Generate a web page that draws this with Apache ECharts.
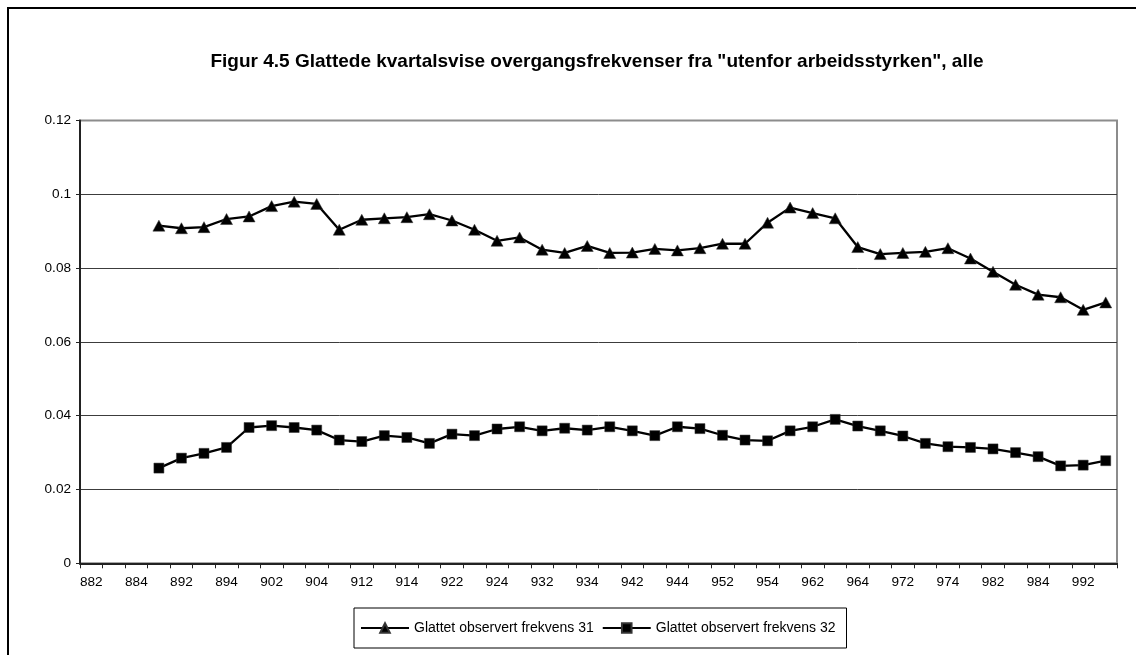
<!DOCTYPE html>
<html>
<head>
<meta charset="utf-8">
<title>Figur 4.5</title>
<script src="https://cdn.jsdelivr.net/npm/echarts@6/dist/echarts.min.js"></script>
<style>
  html, body { margin: 0; padding: 0; background: #fff; }
  #chart { width: 1136px; height: 655px; }
</style>
</head>
<body>
<div id="chart"></div>
<script>
// Quarters, written as year (two last digits) + quarter number
const quarters = [
  '882','883','884',
  '891','892','893','894',
  '901','902','903','904',
  '911','912','913','914',
  '921','922','923','924',
  '931','932','933','934',
  '941','942','943','944',
  '951','952','953','954',
  '961','962','963','964',
  '971','972','973','974',
  '981','982','983','984',
  '991','992','993'
];

// Smoothed observed transition frequency 31 (starts at 891)
const frekvens31 = [
  null, null, null,
  0.0915, 0.0908, 0.0911, 0.0933,
  0.0940, 0.0968, 0.0980, 0.0974,
  0.0904, 0.0931, 0.0935, 0.0938,
  0.0946, 0.0929, 0.0904, 0.0874,
  0.0883, 0.0850, 0.0841, 0.0860,
  0.0841, 0.0842, 0.0852, 0.0848,
  0.0854, 0.0866, 0.0866, 0.0923,
  0.0964, 0.0949, 0.0935, 0.0857,
  0.0838, 0.0841, 0.0844, 0.0854,
  0.0826, 0.0790, 0.0755, 0.0728,
  0.0721, 0.0687, 0.0707
];

// Smoothed observed transition frequency 32 (starts at 891)
const frekvens32 = [
  null, null, null,
  0.0258, 0.0285, 0.0298, 0.0314,
  0.0368, 0.0373, 0.0368, 0.0361,
  0.0334, 0.0330, 0.0346, 0.0341,
  0.0325, 0.0350, 0.0346, 0.0364,
  0.0370, 0.0359, 0.0366, 0.0361,
  0.0370, 0.0359, 0.0346, 0.0370,
  0.0365, 0.0347, 0.0334, 0.0332,
  0.0359, 0.0370, 0.0390, 0.0372,
  0.0359, 0.0345, 0.0325, 0.0316,
  0.0314, 0.0310, 0.0300, 0.0289,
  0.0264, 0.0266, 0.0278
];

const FONT = "'Liberation Sans', Arial, sans-serif";

const chart = echarts.init(document.getElementById('chart'), null, { renderer: 'canvas' });

chart.setOption({
  backgroundColor: '#ffffff',
  animation: false,
  textStyle: { fontFamily: FONT, color: '#000' },
  // outer chart frame (runs past the right and bottom edges)
  graphic: [{
    type: 'rect',
    z: -10,
    silent: true,
    shape: { x: 8, y: 8, width: 1300, height: 800 },
    style: { fill: 'none', stroke: '#000', lineWidth: 2 }
  }],
  title: {
    text: 'Figur 4.5 Glattede kvartalsvise overgangsfrekvenser fra "utenfor arbeidsstyrken", alle',
    left: 597,
    top: 52,
    padding: 0,
    textAlign: 'center',
    textVerticalAlign: 'top',
    textStyle: { fontFamily: FONT, fontSize: 19, fontWeight: 'bold', color: '#000' }
  },
  legend: {
    left: 354,
    top: 608,
    padding: [13, 11, 13, 6],
    itemGap: 8,
    itemWidth: 48,
    itemHeight: 12,
    borderColor: '#000',
    borderWidth: 1,
    textStyle: { fontFamily: FONT, fontSize: 14, color: '#000' },
    data: ['Glattet observert frekvens 31', 'Glattet observert frekvens 32']
  },
  grid: {
    left: 80,
    right: 19,
    top: 120.5,
    bottom: 91.7,
    show: true,
    backgroundColor: '#fff',
    borderColor: '#8c8c8c',
    borderWidth: 2
  },
  xAxis: {
    type: 'category',
    data: quarters,
    boundaryGap: true,
    axisLine: { show: true, lineStyle: { color: '#222', width: 2 } },
    axisTick: { show: true, interval: 0, length: 5, lineStyle: { color: '#222', width: 1 } },
    axisLabel: { interval: 1, margin: 12, color: '#000', fontFamily: FONT, fontSize: 13.6 },
    splitLine: { show: false }
  },
  yAxis: {
    type: 'value',
    min: 0,
    max: 0.12,
    interval: 0.02,
    axisLine: { show: true, lineStyle: { color: '#222', width: 2 } },
    axisTick: { show: true, length: 4, lineStyle: { color: '#222', width: 1 } },
    axisLabel: { margin: 9, color: '#000', fontFamily: FONT, fontSize: 13.6 },
    splitLine: { show: true, showMinLine: false, showMaxLine: false, lineStyle: { color: '#3c3c3c', width: 1 } }
  },
  series: [
    {
      name: 'Glattet observert frekvens 31',
      type: 'line',
      data: frekvens31,
      symbol: 'triangle',
      symbolSize: [12, 11],
      showAllSymbol: true,
      connectNulls: false,
      lineStyle: { color: '#000', width: 2.3 },
      itemStyle: { color: '#000', borderColor: '#333', borderWidth: 0.5 }
    },
    {
      name: 'Glattet observert frekvens 32',
      type: 'line',
      data: frekvens32,
      symbol: 'rect',
      symbolSize: 10,
      showAllSymbol: true,
      connectNulls: false,
      lineStyle: { color: '#000', width: 2.3 },
      itemStyle: { color: '#000', borderColor: '#333', borderWidth: 0.5 }
    }
  ]
});
</script>
</body>
</html>
